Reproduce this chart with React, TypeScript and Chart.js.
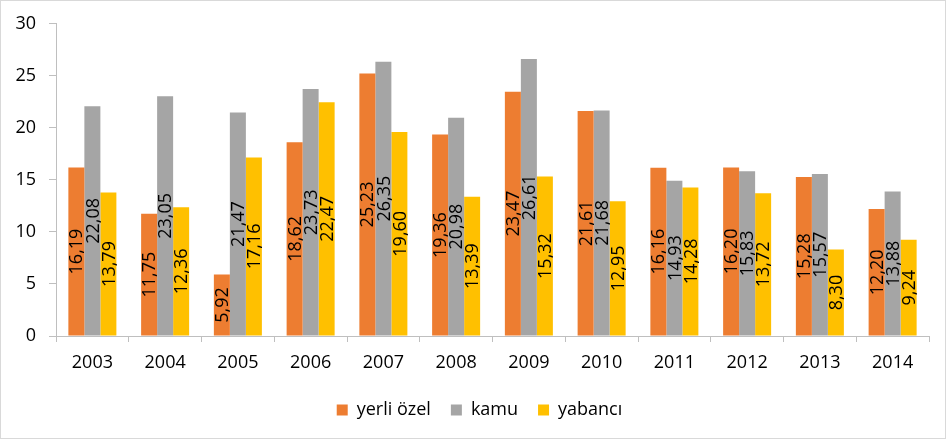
import React, { useEffect, useRef } from "react";
import { Chart, registerables } from "chart.js";

Chart.register(...registerables);

const categories = ["2003", "2004", "2005", "2006", "2007", "2008", "2009", "2010", "2011", "2012", "2013", "2014"];
const yerliOzel = [16.19, 11.75, 5.92, 18.62, 25.23, 19.36, 23.47, 21.61, 16.16, 16.2, 15.28, 12.2];
const kamu = [22.08, 23.05, 21.47, 23.73, 26.35, 20.98, 26.61, 21.68, 14.93, 15.83, 15.57, 13.88];
const yabanci = [13.79, 12.36, 17.16, 22.47, 19.6, 13.39, 15.32, 12.95, 14.28, 13.72, 8.3, 9.24];
const seriesNames = ["yerli özel", "kamu", "yabancı"];
const seriesColors = ["#ED7D31", "#A5A5A5", "#FFC000"];

const FONT = "'Open Sans', 'Noto Sans', sans-serif";

const borderPlugin = {
  id: "outerBorder",
  beforeDraw(chart: any) {
    const ctx = chart.ctx;
    ctx.save();
    ctx.fillStyle = "#ffffff";
    ctx.fillRect(0, 0, chart.width, chart.height);
    ctx.strokeStyle = "#D9D9D9";
    ctx.lineWidth = 1;
    ctx.strokeRect(0.5, 0.5, chart.width - 2, chart.height - 3);
    ctx.restore();
  },
};

const legendShiftPlugin = {
  id: "legendShift",
  afterLayout(chart: any) {
    const lg = chart.legend;
    if (lg) {
      lg.left += 15;
      lg.right += 15;
    }
  },
};

const labelPlugin = {
  id: "rotatedLabels",
  afterDatasetsDraw(chart: any) {
    const ctx = chart.ctx;
    ctx.save();
    ctx.font = `18px ${FONT}`;
    ctx.fillStyle = "#000000";
    ctx.textAlign = "center";
    ctx.textBaseline = "middle";
    chart.data.datasets.forEach((ds: any, i: number) => {
      const meta = chart.getDatasetMeta(i);
      meta.data.forEach((el: any, j: number) => {
        const v = ds.data[j];
        const txt = v.toFixed(2).replace(".", ",");
        const cx = el.x;
        const cy = (el.y + el.base) / 2;
        ctx.save();
        ctx.translate(cx + 1, cy);
        ctx.rotate(-Math.PI / 2);
        ctx.fillText(txt, 0, 0);
        ctx.restore();
      });
    });
    ctx.restore();
  },
};

export default function App() {
  const ref = useRef<HTMLCanvasElement | null>(null);
  useEffect(() => {
    document.body.style.margin = "0";
    const canvas = ref.current!;
    const chart = new Chart(canvas, {
      type: "bar",
      data: {
        labels: categories,
        datasets: [yerliOzel, kamu, yabanci].map((d, i) => ({
          label: seriesNames[i],
          data: d,
          backgroundColor: seriesColors[i],
          categoryPercentage: 0.66,
          barPercentage: 1,
        })),
      },
      options: {
        responsive: false,
        animation: false,
        layout: { padding: { left: 0, right: 18, top: 23, bottom: 12 } },
        plugins: {
          legend: {
            position: "bottom",
            labels: {
              boxWidth: 11,
              boxHeight: 11,
              padding: 20,
              color: "#000",
              font: { family: FONT, size: 18 },
            },
          },
          tooltip: { enabled: false },
        },
        scales: {
          x: {
            grid: { display: true, drawOnChartArea: false, drawTicks: true, tickLength: 6, color: "#BFBFBF", offset: true },
            border: { display: true, color: "#BFBFBF" },
            ticks: { color: "#000", font: { family: FONT, size: 18 }, padding: 10, maxRotation: 0 },
            afterFit: (s: any) => { s.height = 45; },
          },
          y: {
            min: 0,
            max: 30,
            ticks: { stepSize: 5, color: "#000", font: { family: FONT, size: 18 }, padding: 13, crossAlign: "near" },
            grid: { display: true, drawOnChartArea: false, drawTicks: true, tickLength: 7, color: "#BFBFBF" },
            border: { display: true, color: "#BFBFBF" },
            afterFit: (s: any) => { s.width = 56; },
          },
        },
      },
      plugins: [borderPlugin, legendShiftPlugin, labelPlugin],
    });
    return () => chart.destroy();
  }, []);
  return <canvas ref={ref} width={947} height={441} style={{ display: "block", width: 947, height: 441 }} />;
}
